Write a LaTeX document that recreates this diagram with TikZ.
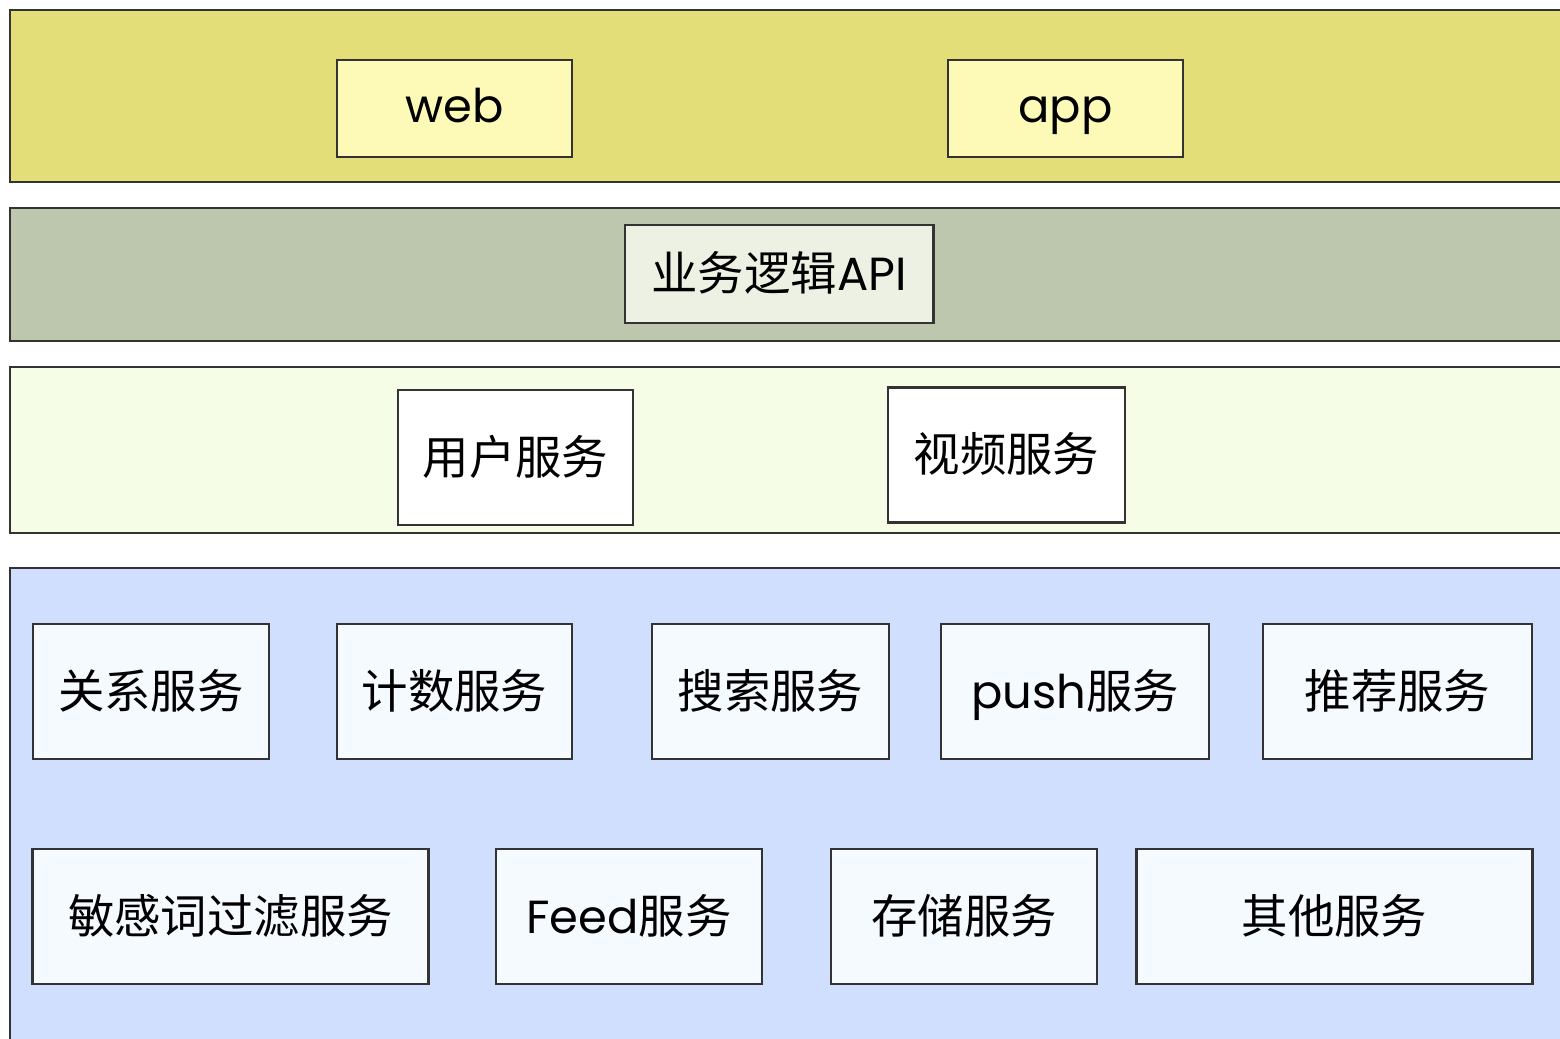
\documentclass[tikz,border=0pt]{standalone}
\usepackage{fontspec}
\setmainfont{Poppins}
\newfontfamily\cjk{Noto Sans CJK SC}
\usepackage{tikz}
\definecolor{topyellow}{HTML}{E4DE78}
\definecolor{webfill}{HTML}{FCFAB6}
\definecolor{apigreen}{HTML}{BDC7AD}
\definecolor{apifill}{HTML}{EDF1E4}
\definecolor{svcpale}{HTML}{F6FDE6}
\definecolor{basicblue}{HTML}{CFDFFD}
\definecolor{basicfill}{HTML}{F5FAFE}
\definecolor{edge}{HTML}{333333}

\begin{document}
\begin{tikzpicture}[x=0.01cm,y=-0.01cm,
		layer/.style={draw=edge,line width=0.8pt},
		box/.style={draw=edge,line width=0.8pt,rectangle,inner sep=0pt,font=\fontsize{13.2}{16}\selectfont,text height=1.0em,text depth=0.04em},
		client/.style={box,fill=webfill,minimum width=2.35cm,minimum height=0.97cm,text height=0.8em,text depth=0pt},
		api/.style={box,fill=apifill,minimum width=3.08cm,minimum height=0.98cm},
		svc/.style={box,fill=white,minimum height=1.35cm},
		base/.style={box,fill=basicfill,minimum height=1.35cm}]
		\useasboundingbox (0,0) rectangle (1560,1039);
		\clip (0,0) rectangle (1560,1039);
		% layers
		\draw[layer,fill=topyellow] (10,10) rectangle (1600,182);
		\draw[layer,fill=apigreen] (10,208) rectangle (1600,341);
		\draw[layer,fill=svcpale] (10,367) rectangle (1600,533);
		\draw[layer,fill=basicblue] (10,568) rectangle (1600,1060);
		% clients
		\node[client] (web) at (454.5,108.5) {web};
		\node[client] (app) at (1065.5,108.5) {app};
		\node[api] (api) at (779,274) {{\cjk 业务逻辑}API};
		% services
		\node[svc,minimum width=2.35cm] (user) at (515.5,457.5) {\cjk 用户服务};
		\node[svc,minimum width=2.37cm] (video) at (1006.5,455) {\cjk 视频服务};
		% basic services
		\node[base,minimum width=2.36cm] (relation) at (151,691.5) {\cjk 关系服务};
		\node[base,minimum width=2.35cm] (count) at (454.5,691.5) {\cjk 计数服务};
		\node[base,minimum width=2.37cm] (search) at (770.5,691.5) {\cjk 搜索服务};
		\node[base,minimum width=2.68cm] (push) at (1075,691.5) {push{\cjk 服务}};
		\node[base,minimum width=2.69cm] (recommend) at (1397.5,691.5) {\cjk 推荐服务};
		\node[base,minimum width=3.95cm] (filter) at (230.5,916.5) {\cjk 敏感词过滤服务};
		\node[base,minimum width=2.66cm] (feed) at (629,916.5) {Feed{\cjk 服务}};
		\node[base,minimum width=2.66cm] (storage) at (964,916.5) {\cjk 存储服务};
		\node[base,minimum width=3.95cm] (other) at (1334.5,916.5) {\cjk 其他服务};
\end{tikzpicture}
\end{document}
